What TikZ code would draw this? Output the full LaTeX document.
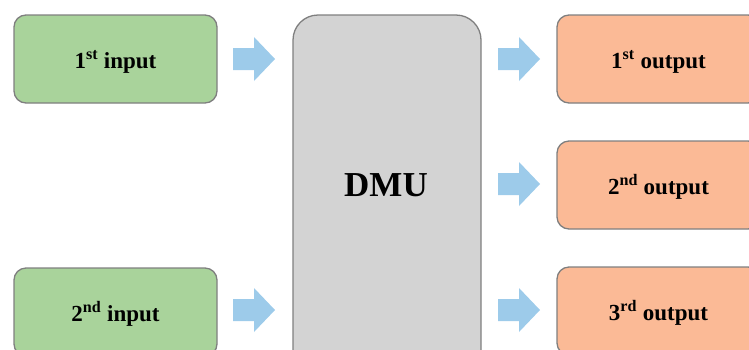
\documentclass[tikz,border=0pt]{standalone}
\usepackage{fontspec}
\setmainfont{Liberation Serif}
\definecolor{ingreen}{HTML}{A9D39B}
\definecolor{outorange}{HTML}{FBBA96}
\definecolor{dmugray}{HTML}{D3D3D3}
\definecolor{arrblue}{HTML}{9DCBEA}
\definecolor{edgegray}{HTML}{7F7F7F}
\tikzset{
  boxbase/.style={draw=edgegray, line width=1.3pt, rounded corners=12pt,
    minimum width=203pt, minimum height=88pt, inner sep=0pt,
    text height=19pt, text depth=0pt,
    font=\fontsize{23}{27}\selectfont\bfseries},
  inbox/.style={boxbase, fill=ingreen},
  outbox/.style={boxbase, fill=outorange},
  dmubox/.style={draw=edgegray, line width=1.3pt, rounded corners=25pt,
    fill=dmugray, minimum width=188pt, minimum height=360pt, inner sep=0pt},
  barrow/.pic={\fill[arrblue] (-21,-11) -- (0,-11) -- (0,-22) -- (21,0) -- (0,22) -- (0,11) -- (-21,11) -- cycle;}
}
\begin{document}
\begin{tikzpicture}[x=1pt,y=-1pt]
\useasboundingbox (0,0) rectangle (749,349);
\clip (0,0) rectangle (749,349);
\node[inbox] (in1) at (115.5,59) {1\textsuperscript{st} input};
\node[inbox] (in2) at (115.5,312) {2\textsuperscript{nd} input};
\node[dmubox] (dmu) at (387,195) {};
\node[font=\fontsize{35}{40}\selectfont\bfseries] (dmulabel) at (386,185) {DMU};
\node[outbox] (out1) at (658.5,59) {1\textsuperscript{st} output};
\node[outbox] (out2) at (658.5,185) {2\textsuperscript{nd} output};
\node[outbox] (out3) at (658.5,311) {3\textsuperscript{rd} output};
\pic at (254,59) {barrow};
\pic at (254,310) {barrow};
\pic at (519,59) {barrow};
\pic at (519,184) {barrow};
\pic at (519,310) {barrow};
\end{tikzpicture}
\end{document}
